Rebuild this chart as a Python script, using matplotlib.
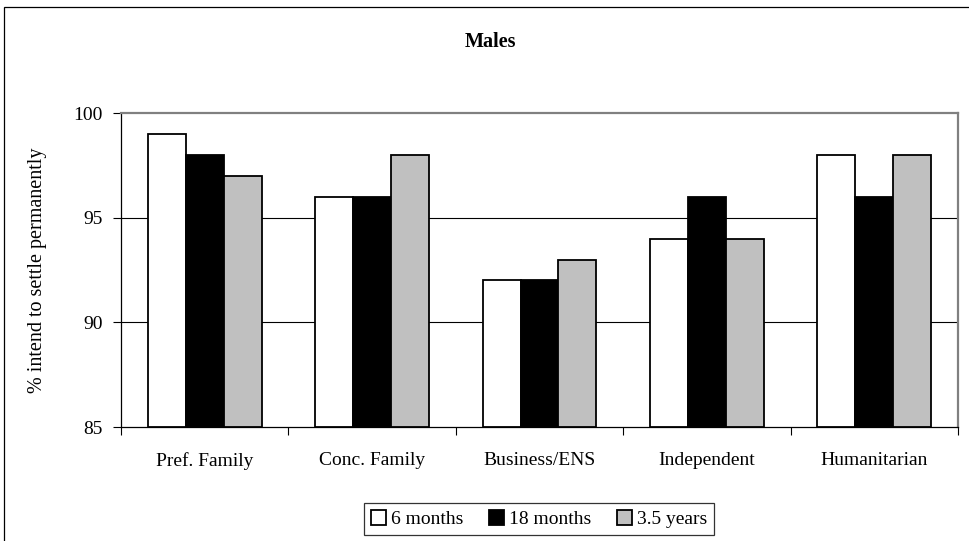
import matplotlib
matplotlib.use("Agg")
import matplotlib.pyplot as plt
from matplotlib.patches import Rectangle
import numpy as np

categories = ["Pref. Family", "Conc. Family", "Business/ENS", "Independent", "Humanitarian"]
series_names = ["6 months", "18 months", "3.5 years"]
six_months = [99, 96, 92, 94, 98]
eighteen_months = [98, 96, 92, 96, 96]
three_half_years = [97, 98, 93, 94, 98]
y_ticks = [85, 90, 95, 100]

plt.rcParams["font.family"] = ["Liberation Serif", "DejaVu Serif"]

W, H = 970, 541
fig = plt.figure(figsize=(W / 100, H / 100), dpi=100)
fig.patch.set_facecolor("white")

# outer chart-area frame (extends past the right/bottom edges of the canvas)
frame = Rectangle((4 / W, -0.1), 1.2, 1 - 7 / H + 0.1, transform=fig.transFigure,
                  fill=False, edgecolor="black", linewidth=0.9, clip_on=False)
fig.add_artist(frame)

ax = fig.add_axes([121 / W, (H - 427) / H, (958 - 121) / W, (427 - 113) / H])

x = np.arange(len(categories))
bw = 0.227
colors = ["white", "black", "#C0C0C0"]
for i, (vals, name, col) in enumerate(zip([six_months, eighteen_months, three_half_years],
                                          series_names, colors)):
    ax.bar(x + (i - 1) * bw, np.array(vals) - 85, bottom=85, width=bw, color=col,
           edgecolor="black", linewidth=1.3, label=name, zorder=3)

ax.set_xlim(-0.5, len(categories) - 0.5)
ax.set_ylim(85, 100)
ax.set_yticks(y_ticks)
ax.set_yticklabels([str(t) for t in y_ticks], fontsize=14)

# gridlines at interior ticks
for t in y_ticks[1:-1]:
    ax.axhline(t, color="black", linewidth=0.8, zorder=1)

ax.set_xticks(np.arange(len(categories) + 1) - 0.5)
ax.set_xticklabels([])
ax.set_xticks(x, minor=True)
ax.set_xticklabels(categories, minor=True, fontsize=14)
ax.tick_params(axis="x", which="major", direction="out", length=6, width=0.8, color="black")
ax.tick_params(axis="x", which="minor", length=0, pad=18)
ax.tick_params(axis="y", direction="out", length=6, width=0.8, pad=7)

for side in ["left", "bottom"]:
    ax.spines[side].set_color("black")
    ax.spines[side].set_linewidth(0.9)
for side in ["top", "right"]:
    ax.spines[side].set_color("#808080")
    ax.spines[side].set_linewidth(1.6)

ax.set_ylabel("% intend to settle permanently", fontsize=14.5)
ax.yaxis.set_label_coords(-(121 - 47) / (958 - 121), 0.5)

fig.text(490 / W, 1 - 42 / H, "Males", ha="center", va="center", fontsize=14.5, fontweight="bold")

leg = fig.legend(loc="center", bbox_to_anchor=(539 / W, 1 - 519 / H), ncol=3, fontsize=14,
                 frameon=True, fancybox=False, edgecolor="black", handlelength=0.8,
                 handleheight=0.8, handletextpad=0.25, columnspacing=1.3, borderpad=0.35,
                 borderaxespad=0)
leg.get_frame().set_linewidth(0.9)

fig.savefig("out.png", dpi=100, facecolor="white")
